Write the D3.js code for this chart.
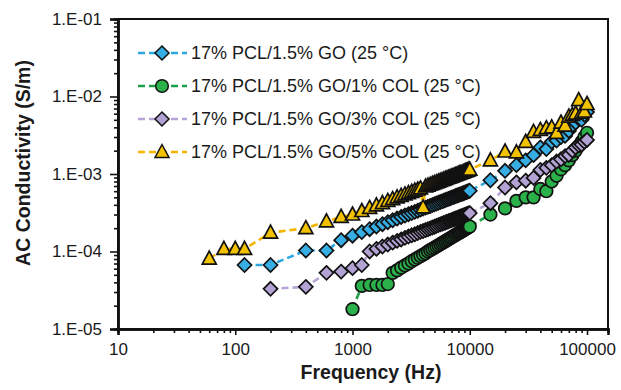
<!DOCTYPE html>
<html><head><meta charset="utf-8">
<script src="https://cdn.jsdelivr.net/npm/d3@7"></script>
<style>
html,body{margin:0;padding:0;background:#fff;}
text{font-family:"Liberation Sans",Arial,sans-serif;fill:#1a1a1a;}
</style></head>
<body>
<svg id="c" width="621" height="390"></svg>
<script>
const freqs = [60, 80, 100, 120, 200, 400, 600, 800,
 1000, 1200, 1400, 1600, 1800, 2000, 2200, 2400, 2600, 2800,
 3000, 3200, 3400, 3600, 3800, 4000, 4200, 4400, 4600, 4800,
 5000, 5200, 5400, 5600, 5800, 6000, 6200, 6400, 6600, 6800,
 7000, 7200, 7400, 7600, 7800, 8000, 8200, 8400, 8600, 8800,
 9000, 9200, 9400, 9600, 9800, 10000,
 15000, 20000, 25000, 30000, 35000, 40000, 45000, 50000, 55000,
 60000, 65000, 70000, 75000, 80000, 85000, 90000, 95000, 100000];

const go = [null, null, null, 6.7e-5, 6.7e-5, 1.03e-4, 1.03e-4, 1.4e-4,
 1.60e-4, 1.78e-4, 1.94e-4, 2.10e-4, 2.25e-4, 2.39e-4, 2.53e-4, 2.66e-4, 2.79e-4, 2.91e-4,
 3.03e-4, 3.14e-4, 3.25e-4, 3.36e-4, 3.47e-4, 3.58e-4, 3.68e-4, 3.78e-4, 3.88e-4, 3.97e-4,
 4.07e-4, 4.16e-4, 4.25e-4, 4.35e-4, 4.44e-4, 4.52e-4, 4.61e-4, 4.70e-4, 4.78e-4, 4.86e-4,
 4.95e-4, 5.03e-4, 5.11e-4, 5.19e-4, 5.27e-4, 5.35e-4, 5.42e-4, 5.50e-4, 5.57e-4, 5.65e-4,
 5.72e-4, 5.80e-4, 5.87e-4, 5.94e-4, 6.01e-4, 6.08e-4,
 8.3e-4, 1.1e-3, 1.3e-3, 1.5e-3, 1.75e-3, 2.2e-3, 2.1e-3, 2.6e-3, 2.7e-3,
 3.0e-3, 3.1e-3, 3.6e-3, 4.2e-3, 4.6e-3, 5.2e-3, 5.0e-3, 5.8e-3, 6.3e-3];

const col1 = [null, null, null, null, null, null, null, null,
 1.8e-5, 3.6e-5, 3.7e-5, 3.7e-5, 3.7e-5, 3.8e-5, 5.3e-5, 5.7e-5, 6.2e-5, 6.6e-5,
 7.0e-5, 7.5e-5, 7.9e-5, 8.3e-5, 8.7e-5, 9.1e-5, 9.5e-5, 1.0e-4, 1.04e-4, 1.08e-4,
 1.12e-4, 1.16e-4, 1.20e-4, 1.24e-4, 1.28e-4, 1.32e-4, 1.36e-4, 1.40e-4, 1.44e-4, 1.48e-4,
 1.52e-4, 1.56e-4, 1.60e-4, 1.64e-4, 1.68e-4, 1.72e-4, 1.75e-4, 1.79e-4, 1.83e-4, 1.87e-4,
 1.91e-4, 1.95e-4, 1.99e-4, 2.03e-4, 2.06e-4, 2.10e-4,
 3.0e-4, 3.6e-4, 4.5e-4, 5.0e-4, 5.0e-4, 6.4e-4, 6.0e-4, 8.0e-4, 9.5e-4,
 1.15e-3, 1.3e-3, 1.5e-3, 1.75e-3, 2.0e-3, 2.3e-3, 2.6e-3, 3.0e-3, 3.4e-3];

const col3 = [null, null, null, null, 3.3e-5, 3.5e-5, 5.3e-5, 5.5e-5,
 6.1e-5, 6.7e-5, 1.00e-4, 1.08e-4, 1.16e-4, 1.23e-4, 1.30e-4, 1.37e-4, 1.43e-4, 1.50e-4,
 1.56e-4, 1.62e-4, 1.67e-4, 1.73e-4, 1.79e-4, 1.84e-4, 1.89e-4, 1.94e-4, 1.99e-4, 2.04e-4,
 2.09e-4, 2.14e-4, 2.19e-4, 2.24e-4, 2.28e-4, 2.33e-4, 2.37e-4, 2.42e-4, 2.46e-4, 2.50e-4,
 2.54e-4, 2.59e-4, 2.63e-4, 2.67e-4, 2.71e-4, 2.75e-4, 2.79e-4, 2.83e-4, 2.87e-4, 2.91e-4,
 2.94e-4, 2.98e-4, 3.02e-4, 3.05e-4, 3.09e-4, 3.13e-4,
 4.2e-4, 6.7e-4, 7.8e-4, 8.2e-4, 8.9e-4, 1.13e-3, 1.2e-3, 1.3e-3, 1.45e-3,
 1.55e-3, 1.7e-3, 1.76e-3, 2.0e-3, 2.2e-3, 2.35e-3, 2.4e-3, 2.6e-3, 2.75e-3];

const col5 = [8.1e-5, 1.08e-4, 1.08e-4, 1.08e-4, 1.75e-4, 2.0e-4, 2.45e-4, 2.8e-4,
 3.0e-4, 3.33e-4, 3.65e-4, 3.94e-4, 4.22e-4, 4.49e-4, 4.74e-4, 4.99e-4, 5.22e-4, 5.45e-4,
 5.67e-4, 5.89e-4, 6.10e-4, 6.31e-4, 6.51e-4, 3.7e-4, 6.90e-4, 7.09e-4, 7.27e-4, 7.45e-4,
 7.63e-4, 7.81e-4, 7.98e-4, 8.15e-4, 8.32e-4, 8.48e-4, 8.65e-4, 8.81e-4, 8.96e-4, 9.12e-4,
 9.27e-4, 9.43e-4, 9.58e-4, 9.73e-4, 9.88e-4, 1.00e-3, 1.02e-3, 1.03e-3, 1.04e-3, 1.06e-3,
 1.07e-3, 1.09e-3, 1.10e-3, 1.11e-3, 1.13e-3, 1.14e-3,
 1.5e-3, 1.95e-3, 1.9e-3, 2.6e-3, 3.5e-3, 3.7e-3, 3.9e-3, 4.0e-3, 3.4e-3,
 4.6e-3, 4.2e-3, 5.5e-3, 5.8e-3, 6.0e-3, 9.0e-3, 6.2e-3, 6.4e-3, 8.0e-3];

const seriesNames = ["17% PCL/1.5% GO (25 °C)", "17% PCL/1.5% GO/1% COL (25 °C)",
  "17% PCL/1.5% GO/3% COL (25 °C)", "17% PCL/1.5% GO/5% COL (25 °C)"];
const xTicks = [10, 100, 1000, 10000, 100000];
const yTicks = [1e-5, 1e-4, 1e-3, 1e-2, 1e-1];

const seriesValues = [go, col1, col3, col5];
const lineColors = ["#2ba6df", "#1f9e48", "#b6a4d8", "#f4b400"];
const fillColors = ["#36aee4", "#2bb14a", "#b3a3d4", "#f2c200"];
const shapes = ["diamond", "circle", "diamond", "triangle"];

const svg = d3.select("#c");
const L = 118, R = 608, T = 19, B = 329;
const x = d3.scaleLog().domain([10, 151000]).range([L, R]);
const y = d3.scaleLog().domain([1e-5, 1e-1]).range([B, T]);

const minorX = [], minorY = [];
for (let e = 1; e <= 5; e++) for (let m = 2; m <= 9; m++) { const v = m * Math.pow(10, e); if (v < 151000) minorX.push(v); }
for (let e = -5; e <= -2; e++) for (let m = 2; m <= 9; m++) minorY.push(m * Math.pow(10, e));

const fmtY = d => "1.E-" + String(-Math.round(Math.log10(d))).padStart(2, "0");

// frame
svg.append("rect").attr("x", L).attr("y", T).attr("width", R - L).attr("height", B - T)
  .attr("fill", "none").attr("stroke", "#111").attr("stroke-width", 2);

// axes
const gy = svg.append("g").attr("transform", `translate(${L},0)`);
gy.call(d3.axisLeft(y).tickValues(yTicks).tickFormat(fmtY).tickSize(8).tickPadding(8));
const gym = svg.append("g").attr("transform", `translate(${L},0)`);
gym.call(d3.axisLeft(y).tickValues(minorY).tickFormat("").tickSize(4));
const gx = svg.append("g").attr("transform", `translate(0,${B})`);
gx.call(d3.axisBottom(x).tickValues(xTicks).tickFormat(d3.format("d")).tickSize(6).tickPadding(8));
const gxm = svg.append("g").attr("transform", `translate(0,${B})`);
gxm.call(d3.axisBottom(x).tickValues(minorX).tickFormat("").tickSize(4));
[gy, gym, gx, gxm].forEach(g => {
  g.select(".domain").attr("stroke", "#111").attr("stroke-width", 2.5);
  g.selectAll(".tick line").attr("stroke", "#111").attr("stroke-width", 1.6);
  g.selectAll("text").attr("font-size", 17).attr("fill", "#1a1a1a")
    .style("font-family", '"Liberation Sans",Arial,sans-serif');
});

// titles
svg.append("text").attr("x", 371).attr("y", 379).attr("text-anchor", "middle")
  .attr("font-size", 19.5).attr("font-weight", "bold").text("Frequency (Hz)");
svg.append("text").attr("transform", "translate(30,163) rotate(-90)").attr("text-anchor", "middle")
  .attr("font-size", 19.5).attr("font-weight", "bold").text("AC Conductivity (S/m)");

function shapePath(s) {
  if (s === "diamond") return "M0,-7L7,0L0,7L-7,0Z";
  if (s === "triangle") return "M0,-7.5L7,5.5L-7,5.5Z";
  return d3.symbol(d3.symbolCircle, Math.PI * 6.3 * 6.3)();
}

const line = d3.line().defined(d => d.v != null).x(d => x(d.f)).y(d => y(d.v));

seriesValues.forEach((vals, i) => {
  const data = freqs.map((f, j) => ({ f: f, v: vals[j] }));
  const g = svg.append("g");
  g.append("path").datum(data).attr("d", line).attr("fill", "none")
    .attr("stroke", lineColors[i]).attr("stroke-width", 2.6).attr("stroke-dasharray", "7,4");
  g.selectAll("path.m").data(data.filter(d => d.v != null)).join("path").attr("class", "m")
    .attr("d", shapePath(shapes[i]))
    .attr("transform", d => `translate(${x(d.f)},${y(d.v)})`)
    .attr("fill", fillColors[i]).attr("stroke", "#111").attr("stroke-width", 1.7);
});

// legend
const lg = svg.append("g");
seriesNames.forEach((name, i) => {
  const cy = 53 + i * 33;
  lg.append("line").attr("x1", 138).attr("x2", 187).attr("y1", cy).attr("y2", cy)
    .attr("stroke", lineColors[i]).attr("stroke-width", 2.6).attr("stroke-dasharray", "7,4");
  lg.append("path").attr("d", shapePath(shapes[i])).attr("transform", `translate(162,${cy})`)
    .attr("fill", fillColors[i]).attr("stroke", "#111").attr("stroke-width", 1.5);
  lg.append("text").attr("x", 191).attr("y", cy + 6).attr("font-size", 18).text(name);
});
</script>
</body></html>
